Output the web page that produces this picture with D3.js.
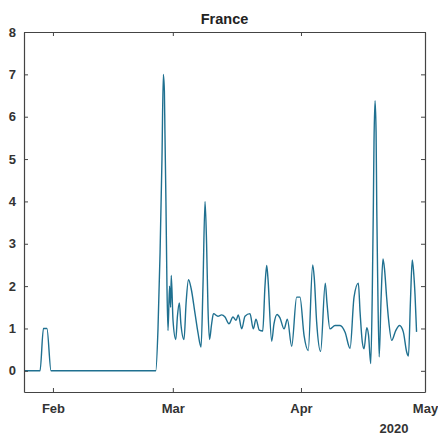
<!DOCTYPE html>
<html>
<head>
<meta charset="utf-8">
<script src="https://cdn.jsdelivr.net/npm/d3@7"></script>
<style>
  body { margin: 0; background: #fff; }
  svg text { font-family: "Liberation Sans", Arial, sans-serif; }
</style>
</head>
<body>
<svg id="chart" width="438" height="437"></svg>
<script>
// readings taken off the plot
var times = [
  "2020-01-25 00:00", "2020-01-28 21:00", "2020-01-29 17:00", "2020-01-30 13:00", "2020-01-31 13:00",
  "2020-02-25 21:00", "2020-02-26 10:00", "2020-02-26 22:00", "2020-02-27 09:00", "2020-02-27 17:00",
  "2020-02-27 23:00", "2020-02-28 02:00", "2020-02-28 08:00", "2020-02-28 14:00", "2020-02-28 20:00",
  "2020-02-29 05:00", "2020-02-29 11:00", "2020-02-29 15:00", "2020-03-01 01:00", "2020-03-01 17:00",
  "2020-03-02 03:00", "2020-03-02 14:00", "2020-03-02 23:00", "2020-03-03 17:00", "2020-03-04 05:00",
  "2020-03-04 19:00", "2020-03-05 10:00", "2020-03-06 09:00", "2020-03-07 02:00", "2020-03-07 20:00",
  "2020-03-08 07:00", "2020-03-08 19:00", "2020-03-09 04:00", "2020-03-09 12:00", "2020-03-09 21:00",
  "2020-03-10 09:00", "2020-03-10 20:00", "2020-03-11 22:00", "2020-03-12 19:00", "2020-03-13 15:00",
  "2020-03-14 14:00", "2020-03-15 13:00", "2020-03-16 07:00", "2020-03-16 20:00", "2020-03-17 16:00",
  "2020-03-18 11:00", "2020-03-19 16:00", "2020-03-20 11:00", "2020-03-21 03:00", "2020-03-21 22:00",
  "2020-03-22 18:00", "2020-03-23 07:00", "2020-03-23 17:00", "2020-03-24 00:00", "2020-03-24 22:00",
  "2020-03-25 11:00", "2020-03-26 05:00", "2020-03-26 22:00", "2020-03-27 22:00", "2020-03-28 17:00",
  "2020-03-29 18:00", "2020-03-30 23:00", "2020-03-31 18:00", "2020-04-01 18:00", "2020-04-02 18:00",
  "2020-04-03 20:00", "2020-04-04 05:00", "2020-04-04 19:00", "2020-04-05 18:00", "2020-04-06 21:00",
  "2020-04-07 07:00", "2020-04-08 00:00", "2020-04-09 06:00", "2020-04-10 11:00", "2020-04-11 16:00",
  "2020-04-12 21:00", "2020-04-13 20:00", "2020-04-14 21:00", "2020-04-15 07:00", "2020-04-15 20:00",
  "2020-04-16 06:00", "2020-04-16 22:00", "2020-04-17 08:00", "2020-04-17 21:00", "2020-04-18 06:00",
  "2020-04-18 12:00", "2020-04-18 16:00", "2020-04-18 22:00", "2020-04-19 04:00", "2020-04-19 08:00",
  "2020-04-19 13:00", "2020-04-19 22:00", "2020-04-20 09:00", "2020-04-20 20:00", "2020-04-21 05:00",
  "2020-04-21 17:00", "2020-04-22 04:00", "2020-04-22 23:00", "2020-04-23 22:00", "2020-04-24 20:00",
  "2020-04-25 18:00", "2020-04-26 14:00", "2020-04-27 00:00", "2020-04-27 12:00", "2020-04-27 22:00",
  "2020-04-28 06:00", "2020-04-28 14:00", "2020-04-28 23:00"
];
var values = [
  0, 0, 1, 1, 0,
  0, 1.0, 2.8, 5.0, 7.0,
  6.6, 5.7, 4.0, 2.0, 0.95,
  2.0, 1.5, 2.25, 1.2, 0.74,
  1.3, 1.6, 1.1, 0.74, 1.6,
  2.15, 1.95, 1.35, 0.9, 0.56,
  2.0, 4.0, 3.0, 1.5, 0.74,
  1.1, 1.35, 1.29, 1.32, 1.27,
  1.11, 1.27, 1.19, 1.32, 0.99,
  1.29, 1.35, 0.99, 1.22, 0.96,
  0.94, 2.0, 2.49, 2.2, 0.7,
  1.1, 1.33, 1.25, 0.99, 1.22,
  0.58, 1.74, 1.74, 0.83, 0.48,
  2.5, 2.2, 1.15, 0.46, 2.07,
  1.6, 0.99, 1.07, 1.07, 0.91,
  0.53, 1.74, 2.07, 1.39, 0.68,
  0.52, 1.02, 0.85, 0.17, 1.85,
  3.82, 5.4, 6.38, 5.64, 3.82,
  2.25, 0.33, 1.7, 2.64, 2.4,
  1.75, 1.23, 0.72, 0.95, 1.07,
  0.92, 0.44, 0.35, 1.7, 2.62,
  2.33, 1.8, 0.92
];
var xStart = "2020-01-25", xEnd = "2020-05-01";
var xTicks = ["2020-02-01", "2020-03-01", "2020-04-01", "2020-05-01"];
var yTicks = [0, 1, 2, 3, 4, 5, 6, 7, 8];
var title = "France";
var yearLabel = "2020";

var parseT = d3.timeParse("%Y-%m-%d %H:%M");
var parseD = d3.timeParse("%Y-%m-%d");
var data = times.map(function(t, i){ return {t: parseT(t), v: values[i]}; });

var svg = d3.select("#chart");
var plotL = 24, plotR = 425, plotT = 32, plotB = 392;

var x = d3.scaleTime().domain([parseD(xStart), parseD(xEnd)]).range([plotL, plotR]);
var y = d3.scaleLinear().domain([-0.5, 8]).range([plotB, plotT]);

var line = d3.line()
  .curve(d3.curveMonotoneX)
  .x(function(d){ return x(d.t); })
  .y(function(d){ return y(d.v); });

svg.append("path")
  .datum(data)
  .attr("d", line)
  .attr("fill", "none")
  .attr("stroke", "#1f7090")
  .attr("stroke-width", 1.4)
  .attr("stroke-linejoin", "round");

var xt = xTicks.map(parseD);

function styleAxis(g){
  g.select(".domain").attr("stroke", "#444").attr("stroke-width", 1.2);
  g.selectAll(".tick line").attr("stroke", "#444");
  g.selectAll(".tick text")
    .attr("fill", "#333")
    .attr("font-size", 13)
    .attr("font-weight", "bold")
    .attr("font-family", "Liberation Sans, Arial, sans-serif");
}

svg.append("g")
  .attr("transform", "translate(0," + plotB + ")")
  .call(d3.axisBottom(x).tickValues(xt).tickFormat(d3.timeFormat("%b"))
    .tickSizeInner(-4).tickSizeOuter(0).tickPadding(12))
  .call(styleAxis);

svg.append("g")
  .attr("transform", "translate(0," + plotT + ")")
  .call(d3.axisTop(x).tickValues(xt).tickFormat("")
    .tickSizeInner(-4).tickSizeOuter(0))
  .call(styleAxis);

svg.append("g")
  .attr("transform", "translate(" + plotL + ",0)")
  .call(d3.axisLeft(y).tickValues(yTicks)
    .tickSizeInner(-4).tickSizeOuter(0).tickPadding(8))
  .call(styleAxis);

svg.append("g")
  .attr("transform", "translate(" + plotR + ",0)")
  .call(d3.axisRight(y).tickValues(yTicks).tickFormat("")
    .tickSizeInner(-4).tickSizeOuter(0))
  .call(styleAxis);

svg.append("text")
  .attr("x", (plotL + plotR) / 2)
  .attr("y", 24)
  .attr("text-anchor", "middle")
  .attr("font-size", 14.5)
  .attr("font-weight", "bold")
  .attr("fill", "#222")
  .text(title);

svg.append("text")
  .attr("x", 394)
  .attr("y", 433)
  .attr("text-anchor", "middle")
  .attr("font-size", 13)
  .attr("font-weight", "bold")
  .attr("fill", "#333")
  .text(yearLabel);
</script>
</body>
</html>
